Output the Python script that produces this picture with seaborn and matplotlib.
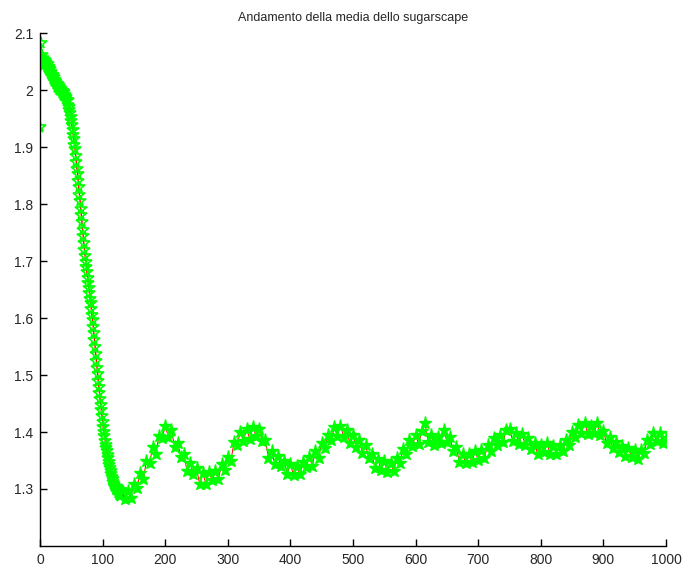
import pandas as pd
import seaborn as sns
import matplotlib.pyplot as plt

# step-by-step values during the fast initial drop (x = 0..129)
early_steps = list(range(0, 130))
early_media = [
  1.935, 2.082, 2.055, 2.061, 2.048, 2.057, 2.050, 2.044, 2.053, 2.046,
  2.049, 2.040, 2.045, 2.037, 2.041, 2.033, 2.036, 2.028, 2.032, 2.024,
  2.027, 2.019, 2.023, 2.015, 2.018, 2.010, 2.014, 2.006, 2.010, 2.003,
  2.007, 2.000, 2.004, 1.998, 2.001, 1.995, 1.999, 1.992, 1.996, 1.989,
  1.992, 1.985, 1.988, 1.980, 1.982, 1.974, 1.970, 1.965, 1.960, 1.952,
  1.946, 1.938, 1.930, 1.921, 1.914, 1.904, 1.896, 1.884, 1.874, 1.862,
  1.853, 1.840, 1.829, 1.816, 1.806, 1.792, 1.781, 1.768, 1.755, 1.744,
  1.731, 1.720, 1.708, 1.699, 1.689, 1.680, 1.671, 1.661, 1.652, 1.644,
  1.634, 1.626, 1.616, 1.606, 1.596, 1.585, 1.573, 1.561, 1.549, 1.537,
  1.525, 1.513, 1.501, 1.490, 1.479, 1.468, 1.458, 1.448, 1.438, 1.428,
  1.418, 1.409, 1.400, 1.393, 1.385, 1.378, 1.372, 1.366, 1.360, 1.354,
  1.348, 1.342, 1.337, 1.331, 1.326, 1.321, 1.317, 1.312, 1.309, 1.305,
  1.303, 1.300, 1.298, 1.304, 1.293, 1.301, 1.290, 1.299, 1.288, 1.297,
]

# oscillating regime, read every 5 steps (x = 130..1000)
late_steps = list(range(130, 1001, 5))
late_media = [
  1.299, 1.283, 1.297, 1.284, 1.309, 1.302, 1.328, 1.317, 1.349, 1.346,
  1.373, 1.361, 1.393, 1.389, 1.410, 1.392, 1.403, 1.374, 1.381, 1.356,
  1.361, 1.331, 1.345, 1.326, 1.336, 1.309, 1.328, 1.309, 1.330, 1.315,
  1.331, 1.317, 1.343, 1.334, 1.357, 1.349, 1.383, 1.378, 1.400, 1.384,
  1.406, 1.388, 1.409, 1.393, 1.405, 1.384, 1.386, 1.355, 1.367, 1.344,
  1.358, 1.341, 1.350, 1.326, 1.344, 1.324, 1.340, 1.326, 1.347, 1.338,
  1.356, 1.341, 1.366, 1.354, 1.381, 1.372, 1.395, 1.386, 1.408, 1.393,
  1.411, 1.392, 1.403, 1.380, 1.395, 1.373, 1.386, 1.363, 1.377, 1.355,
  1.362, 1.337, 1.353, 1.333, 1.349, 1.330, 1.345, 1.332, 1.355, 1.346,
  1.370, 1.361, 1.386, 1.376, 1.394, 1.379, 1.402, 1.416, 1.383, 1.395,
  1.377, 1.392, 1.381, 1.404, 1.383, 1.391, 1.367, 1.373, 1.347, 1.362,
  1.345, 1.362, 1.347, 1.366, 1.351, 1.369, 1.354, 1.377, 1.367, 1.389,
  1.377, 1.394, 1.382, 1.404, 1.406, 1.385, 1.399, 1.379, 1.396, 1.378,
  1.390, 1.370, 1.381, 1.361, 1.377, 1.365, 1.380, 1.361, 1.375, 1.362,
  1.378, 1.366, 1.386, 1.378, 1.400, 1.392, 1.412, 1.399, 1.416, 1.397,
  1.411, 1.398, 1.415, 1.395, 1.402, 1.380, 1.391, 1.372, 1.382, 1.365,
  1.376, 1.358, 1.372, 1.356, 1.368, 1.353, 1.369, 1.364, 1.386, 1.379,
  1.398, 1.384, 1.399, 1.381, 1.389,
]

x_ticks = [0, 100, 200, 300, 400, 500, 600, 700, 800, 900, 1000]
y_ticks = [1.3, 1.4, 1.5, 1.6, 1.7, 1.8, 1.9, 2.0, 2.1]
y_labels = ["1.3", "1.4", "1.5", "1.6", "1.7", "1.8", "1.9", "2", "2.1"]

# the early part also gets the first late point so the red line stays joined
early_df = pd.DataFrame({
  "step": early_steps + late_steps[:1],
  "media": early_media + late_media[:1],
})
late_df = pd.DataFrame({"step": late_steps, "media": late_media})

sns.set_style("ticks", {"xtick.direction": "in", "ytick.direction": "in"})
plt.rcParams["font.family"] = ["Liberation Sans", "DejaVu Sans"]

fig = plt.figure(figsize=(6.83, 5.68), dpi=100)
ax = fig.add_axes([40 / 683, 22 / 568, 626 / 683, 513 / 568])

# hollow stars where the points are spread out (red line shows through)
sns.lineplot(
  data=early_df, x="step", y="media", ax=ax,
  color="red", linewidth=1,
  marker="*", markersize=8.5, markerfacecolor="none",
  markeredgecolor="#00ff00", markeredgewidth=1.2,
)
# the dense plateau: stars overlap into a solid green band
sns.lineplot(
  data=late_df, x="step", y="media", ax=ax,
  color="red", linewidth=0.7,
  marker="*", markersize=9.5, markerfacecolor="#00ff00",
  markeredgecolor="#00ff00", markeredgewidth=1,
)

ax.set_xlim(0, 1000)
ax.set_ylim(1.2, 2.1)
ax.set_xticks(x_ticks)
ax.set_yticks(y_ticks)
ax.set_yticklabels(y_labels)
ax.set_xlabel("")
ax.set_ylabel("")
ax.tick_params(length=5, width=1, color="black", labelsize=10, pad=5)
sns.despine(ax=ax)
for side in ["left", "bottom"]:
  ax.spines[side].set_color("black")
  ax.spines[side].set_linewidth(1)
ax.set_title("Andamento della media dello sugarscape", fontsize=9, pad=9)

fig.savefig("out.png", dpi=100)
